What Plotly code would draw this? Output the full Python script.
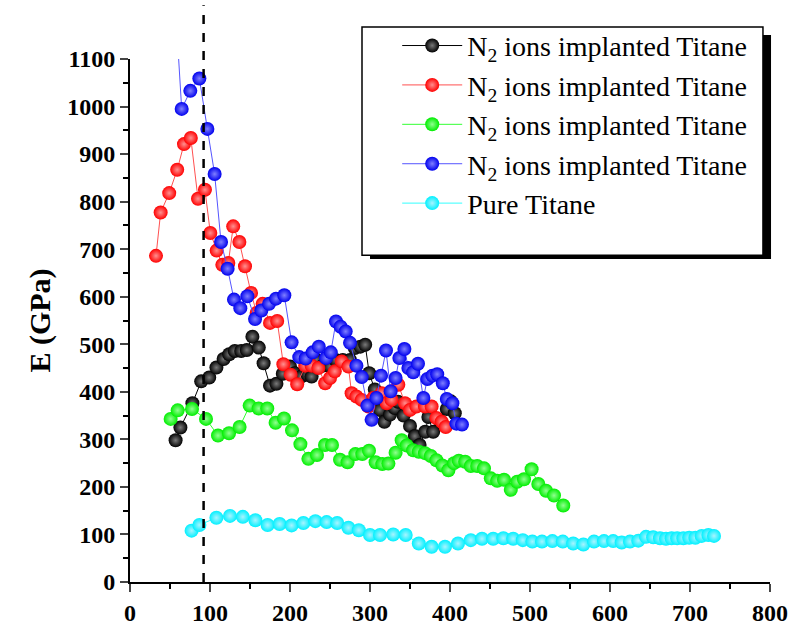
import plotly.graph_objects as go

# ---------------- data ----------------
black_x = [57, 63, 78, 89, 99, 108, 117, 124, 131, 139, 146, 153, 161, 167, 175, 183, 191, 200, 206, 214,
           222, 227, 233, 241, 250, 257, 266, 275, 281, 288, 294, 299, 306, 312, 318, 325, 331, 335, 342,
           350, 356, 362, 369, 373, 379, 387, 396, 401, 406]
black_y = [298, 325, 376, 422, 430, 451, 469, 479, 486, 486, 488, 516, 493, 460, 413, 417, 438, 453, 439, 432,
           436, 432, 467, 455, 453, 467, 467, 467, 492, 495, 499, 439, 405, 362, 337, 352, 366, 379, 350,
           328, 307, 288, 316, 347, 316, 340, 364, 380, 355]

red_x = [32.5, 38.3, 49, 59, 67.5, 76, 85, 93.7, 100.4, 108.3, 115.4, 122.9, 129, 136.7, 143.75, 151.3, 158.3,
         165.8, 175, 184, 191.7, 200.8, 209, 219, 227, 235.4, 244, 250, 256, 264.6, 273, 277, 283, 289.6, 298,
         304, 314.6, 320.8, 327, 335.4, 343.75, 350, 358, 368.75, 377, 383, 389.6, 394.6]
red_y = [686, 777, 818, 867, 921, 934, 806, 825, 734, 697, 667, 671, 748, 715, 664, 608, 566,
         585, 545, 549, 458, 436, 416, 455, 455, 450, 418, 429, 443, 464, 453, 397, 390, 383, 369,
         387, 397, 376, 383, 415, 376, 362, 369, 369, 369, 345, 337, 326]

green_x = [50.8, 59.6, 77.5, 95, 110, 123.75, 137, 149.6, 160.8, 171.6, 182, 192.5, 202.5, 213, 223, 233.75,
           243.75, 252.5, 262.5, 272, 281.7, 290.4, 298.75, 307, 315.4, 323, 332, 339.6, 346, 354, 361, 368.75,
           376, 383, 390.4, 398, 405, 411, 419, 426, 434, 442.5, 451, 459, 467.5, 476, 484, 492.5, 502, 510.4,
           520, 530, 541.6]
green_y = [343, 361, 364, 343, 308, 313, 326, 371, 365, 365, 335, 344, 319, 290, 259, 267,
           288, 288, 257, 252, 269, 269, 276, 252, 248, 249, 272, 298, 287, 277, 274, 271,
           265, 256, 245, 235, 250, 255, 253, 244, 244, 239, 218, 213, 215, 194, 211, 216, 237, 206,
           192, 182, 161]

blue_x = [59, 64.6, 75.4, 86.7, 96.7, 105.8, 113.8, 122, 130, 137.9, 146.7, 156.3, 164.2, 173.8, 182.5, 192.9,
          202, 211.6, 219.6, 228.3, 236, 245, 251, 257.5, 263.3, 269.6, 275, 283, 289.6, 296.7, 302, 308, 313.8,
          320, 325.8, 332, 336.7, 343, 348, 354, 360, 366.7, 371.7, 378, 384, 391, 396, 403, 408, 415]
blue_y = [1150, 995, 1033, 1059, 953, 858, 715, 659, 594, 576, 601, 553, 571, 585, 596, 603,
          504, 473, 470, 483, 495, 471, 483, 548, 537, 527, 503, 455, 431, 371, 341, 387, 434,
          487, 401, 429, 471, 490, 450, 441, 459, 387, 427, 434, 437, 418, 385, 376, 333, 331]

cyan_x = [77, 86.7, 108, 125, 141, 156.7, 172, 187, 202, 216.7, 231.7, 245.8, 259, 273, 286, 300, 312.5, 329,
          344.6, 361, 377, 393.75, 410, 426, 440, 454, 466.7, 479, 491, 503, 515, 528, 541, 554, 566.7, 580,
          592.5, 604, 614.6, 625, 635.4, 645, 654, 662.5, 670, 677, 684, 691.7, 699, 706.7, 714.6, 723, 730]
cyan_y = [108, 120, 135, 139, 137, 130, 120, 122, 119, 124, 128, 126, 124, 114, 109, 99, 99, 100,
          99, 81, 74, 74, 81, 88, 91, 91, 92, 91, 88, 85, 85, 86, 85, 81, 79, 85,
          86, 86, 83, 85, 87, 95, 94, 92, 91, 92, 92, 92, 93, 93, 97, 99, 97]

series_names = ["N<sub>2</sub> ions implanted Titane"] * 4 + ["Pure Titane"]
x_ticks = [0, 100, 200, 300, 400, 500, 600, 700, 800]
y_ticks = [0, 100, 200, 300, 400, 500, 600, 700, 800, 900, 1000, 1100]
dashed_x = 92

# ---------------- figure ----------------
series = [
    (black_x, black_y, "#000000", "#000000", "#7a7a7a"),
    (red_x, red_y, "#ff0000", "#ff5050", "#ff9090"),
    (green_x, green_y, "#00ee00", "#33ff33", "#90ff90"),
    (blue_x, blue_y, "#0000ee", "#5555ff", "#8080ff"),
    (cyan_x, cyan_y, "#00f0ff", "#33ffff", "#a8f4ff"),
]

fig = go.Figure()
for (xs, ys, mcol, lcol, hcol), name in zip(series, series_names):
    fig.add_trace(go.Scatter(
        x=xs, y=ys, name=name, mode="lines+markers",
        line=dict(color=lcol, width=1),
        marker=dict(size=14, color=mcol, line=dict(width=0),
                    gradient=dict(type="radial", color=hcol)),
        cliponaxis=True,
    ))

serif = "Liberation Serif, Times New Roman, serif"

# legend frame (shadow + box)
fig.add_shape(type="rect", xref="paper", yref="paper", x0=0.375, x1=1.0016, y0=0.6176, y1=1.046,
              fillcolor="black", line=dict(width=0), layer="above")
fig.add_shape(type="rect", xref="paper", yref="paper", x0=0.3625, x1=0.989, y0=0.625, y1=1.0612,
              fillcolor="white", line=dict(color="black", width=1.5), layer="above")
# dashed vertical line
fig.add_shape(type="line", xref="x", yref="paper", x0=dashed_x, x1=dashed_x, y0=0, y1=1.103,
              line=dict(color="black", width=2.5, dash="dash"), layer="above")

fig.update_layout(
    width=809, height=630,
    margin=dict(l=130, r=39, t=59, b=48),
    paper_bgcolor="white", plot_bgcolor="white",
    font=dict(family=serif, color="black"),
    showlegend=True,
    legend=dict(x=0.4175, y=1.073, xanchor="left", yanchor="top",
                bgcolor="rgba(0,0,0,0)", borderwidth=0,
                font=dict(family=serif, size=28, color="black"),
                itemwidth=60, tracegroupgap=0),
    xaxis=dict(range=[0, 800], tickvals=x_ticks, ticks="outside", ticklen=8, tickwidth=2,
               showline=True, linewidth=2, linecolor="black", showgrid=False, zeroline=False,
               automargin=False,
               tickfont=dict(family=serif, size=24, weight="bold"),
               minor=dict(dtick=50, ticks="outside", ticklen=5, tickwidth=2, tickcolor="black")),
    yaxis=dict(range=[0, 1100], tickvals=y_ticks, ticks="outside", ticklen=8, tickwidth=2,
               showline=True, linewidth=2, linecolor="black", showgrid=False, zeroline=False,
               automargin=False,
               tickfont=dict(family=serif, size=24, weight="bold"),
               minor=dict(dtick=50, ticks="outside", ticklen=5, tickwidth=2, tickcolor="black"),
               title=dict(text="E (GPa)", font=dict(family=serif, size=30, weight="bold"), standoff=8)),
)

fig.write_html("out.html")
